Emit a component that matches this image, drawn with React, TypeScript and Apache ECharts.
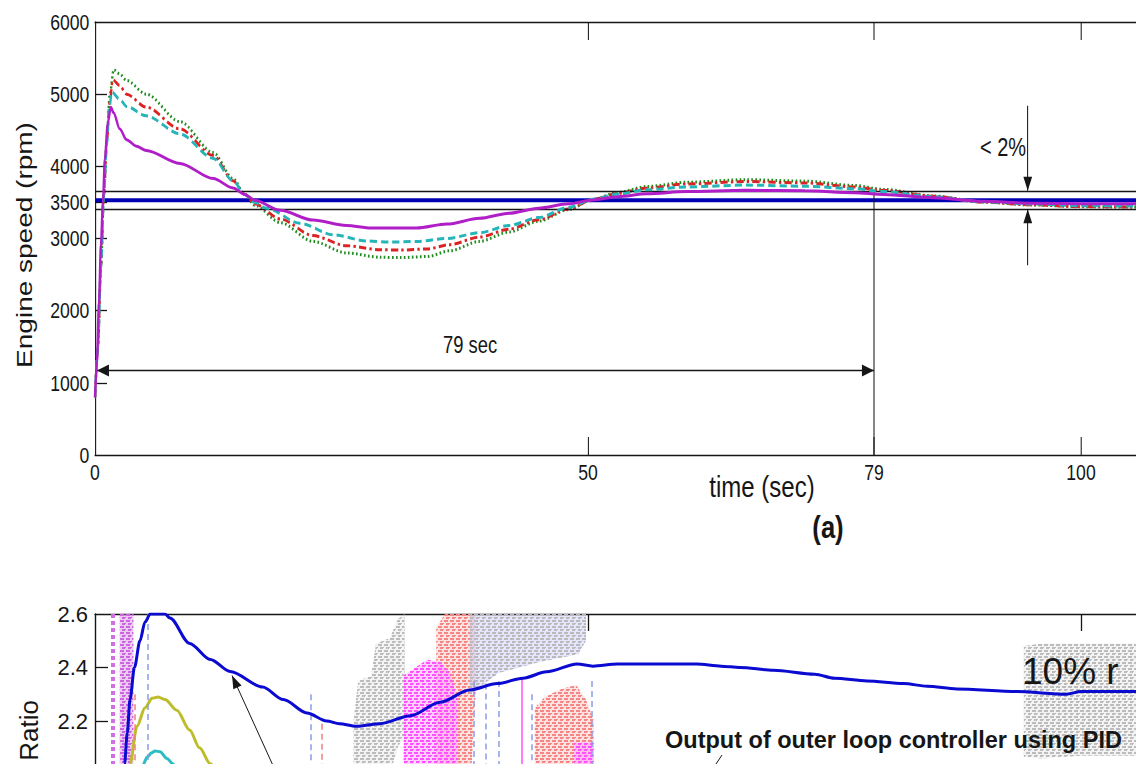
import React, { useEffect, useRef } from 'react';
import * as echarts from 'echarts';

const FONT = "'Liberation Sans', Arial, Helvetica, sans-serif";
const INK = '#161616';
const SQUEEZE = 0.8; // the upper figure is drawn wide and squeezed horizontally
const SEC_PX = 9.86; // pixels per second on both time axes
const PLOT_LEFT = 95;
const T_MAX = 110;

// Filled arrow head whose tip sits exactly on the end point of a mark line
const ARROW = 'path://M0,0L0.01,0L0,0.01Z M0,20L6,40L-6,40Z';

// ---------- (a) engine speed response ----------
const speedTickLabels = [0, 1000, 2000, 3000, 3500, 4000, 5000, 6000];
const speedTickMarks = [1000, 2000, 3000, 3500, 4000, 5000];
const timeTickLabels = [0, 50, 79, 100];
const timeTickMarks = [50, 79, 100];

const setpointRpm = 3530;
const toleranceHigh = 3660;
const toleranceLow = 3405;
const settlingSec = 79;
const spanArrowRpm = 1170;
const toleranceArrowSec = 94.6;
const toleranceArrowTop = 4840;
const toleranceArrowBottom = 2630;

const speedSetpoint: number[][] = [[0, setpointRpm], [T_MAX, setpointRpm]];

const speedGreen: number[][] = [
  [0, 800], [0.3, 1500], [0.6, 2600], [0.9, 3600], [1.2, 4400], [1.5, 5000], [1.9, 5340],
  [2.5, 5280], [3.2, 5190], [5.2, 5000], [8.6, 4620], [12, 4190], [14, 3830], [15.2, 3610],
  [16.2, 3460], [18.8, 3220], [22.1, 2960], [25.5, 2800], [28.9, 2740], [31, 2735], [33.7, 2750],
  [36, 2830], [39, 2960], [42, 3090], [45, 3240], [48, 3400], [50.5, 3540], [53, 3640], [56, 3720],
  [60, 3780], [66, 3815], [72, 3795], [77, 3735], [80, 3680], [85, 3590], [90, 3505], [95, 3465],
  [100, 3440], [105, 3435], [110, 3440],
];

const speedRed: number[][] = [
  [0, 800], [0.3, 1500], [0.6, 2600], [0.9, 3600], [1.2, 4350], [1.5, 4900], [1.8, 5200],
  [2.5, 5120], [3.2, 5000], [5.2, 4820], [8.6, 4520], [12, 4150], [14, 3800], [15.2, 3610],
  [16.2, 3480], [18.8, 3270], [22.1, 3040], [25.5, 2900], [28.9, 2845], [31, 2840], [33.7, 2855],
  [36, 2915], [39, 3020], [42, 3130], [45, 3260], [48, 3410], [50.5, 3540], [53, 3625], [56, 3700],
  [60, 3755], [66, 3790], [72, 3770], [77, 3715], [80, 3665], [85, 3585], [90, 3505], [95, 3468],
  [100, 3442], [105, 3438], [110, 3440],
];

const speedCyan: number[][] = [
  [0, 800], [0.3, 1500], [0.6, 2600], [0.9, 3600], [1.2, 4300], [1.45, 4800], [1.7, 5030],
  [2.5, 4930], [3.2, 4830], [5.2, 4700], [8.6, 4450], [12, 4110], [14, 3800], [15.2, 3610],
  [16.2, 3500], [17.4, 3420], [20.8, 3210], [24.2, 3050], [27.6, 2965], [30, 2950], [32.6, 2958],
  [35.7, 3000], [39, 3080], [42, 3180], [45, 3290], [48, 3430], [50.5, 3545], [53, 3615], [56, 3675],
  [60, 3715], [66, 3740], [72, 3725], [77, 3690], [80, 3650], [85, 3580], [90, 3510], [95, 3478],
  [100, 3455], [105, 3450], [110, 3450],
];

const speedMagenta: number[][] = [
  [0, 800], [0.2, 1300], [0.4, 2100], [0.6, 2900], [0.8, 3500], [1.0, 4100], [1.3, 4600], [1.6, 4820],
  [1.9, 4740], [2.5, 4520], [3.2, 4370], [4.2, 4280], [5.2, 4220], [8.6, 4040], [12, 3830], [14, 3700],
  [15.2, 3610], [16.2, 3530], [18.8, 3390], [22.1, 3255], [25.5, 3180], [28, 3145], [32.6, 3145],
  [35.7, 3200], [39, 3280], [42, 3350], [45, 3420], [48, 3480], [50.5, 3535], [53, 3580], [56, 3620],
  [60, 3650], [66, 3668], [72, 3660], [77, 3635], [80, 3610], [85, 3565], [90, 3515], [95, 3490],
  [100, 3482], [105, 3480], [110, 3480],
];

// ---------- lower panel: outer loop controller output ----------
const ratioTickLabels = [2.2, 2.4, 2.6];
const ratioTickMarks = [1.8, 2.0, 2.2, 2.4];
const ratioTopTicks = [50, 100];

const ratioPid: number[][] = [
  [2.5, 1.6], [3.0, 2.04], [3.27, 2.155], [3.55, 2.28], [4.0, 2.4], [4.56, 2.5], [5.07, 2.57],
  [5.6, 2.6], [7.1, 2.6], [7.6, 2.585], [9.6, 2.49], [11.7, 2.43], [13.7, 2.385], [17, 2.327],
  [19.1, 2.28], [21.5, 2.23], [23.5, 2.2], [24.8, 2.19], [26.5, 2.18], [28.9, 2.19], [32, 2.22],
  [35, 2.27], [38, 2.316], [40.8, 2.34], [43.4, 2.36], [45.8, 2.384], [48.9, 2.413], [50.5, 2.405],
  [53, 2.413], [61, 2.413], [63.5, 2.405], [65.4, 2.4], [68.8, 2.39], [73, 2.375], [75, 2.36],
  [78.3, 2.35], [82, 2.34], [84.4, 2.33], [87.4, 2.32], [93.5, 2.31], [98.5, 2.3], [100, 2.31], [110, 2.31],
];

const ratioYellow: number[][] = [
  [3.2, 1.7], [3.55, 2.04], [4.26, 2.18], [5.07, 2.25], [5.8, 2.285], [6.4, 2.29], [7.1, 2.28],
  [8.3, 2.24], [9.6, 2.166], [10.6, 2.1], [11.7, 2.04], [13, 1.95],
];

const ratioCyan: number[][] = [
  [4.3, 1.8], [4.9, 2.04], [5.3, 2.065], [5.7, 2.08], [6.1, 2.088], [6.6, 2.085], [7.3, 2.06],
  [7.9, 2.04], [8.8, 1.95],
];

// switching traces, drawn as hatched bands: [time, low, high]
const bandViolet: number[][] = [[2.5, 1.9, 2.6], [3.9, 1.9, 2.6]];
const bandGrayLeft: number[][] = [
  [26.2, 1.9, 2.2], [26.7, 1.9, 2.35], [28.0, 1.9, 2.37], [28.5, 1.9, 2.49], [29.9, 2.0, 2.51],
  [30.7, 2.1, 2.58], [31.4, 2.15, 2.6],
];
const bandSalmonMid: number[][] = [[34.6, 1.9, 2.55], [35.5, 1.9, 2.6], [38.0, 1.9, 2.6], [38.6, 2.3, 2.6]];
const bandMagenta: number[][] = [
  [31.3, 1.9, 2.37], [32.5, 1.9, 2.4], [33.7, 1.9, 2.43], [35.0, 1.9, 2.42], [36.0, 1.9, 2.38], [36.8, 1.9, 2.28],
];
const bandGrayBlue: number[][] = [[38.0, 2.3, 2.6], [41.0, 2.38, 2.6], [45.0, 2.42, 2.6], [49.0, 2.45, 2.6], [49.8, 2.5, 2.6]];
const bandSalmonLow: number[][] = [
  [44.6, 1.9, 2.25], [45.6, 1.9, 2.29], [47.3, 1.9, 2.32], [48.8, 1.9, 2.335], [49.8, 1.9, 2.28], [50.6, 1.9, 2.2],
];
const bandMagentaLow: number[][] = [[48.6, 1.9, 2.12], [50.6, 1.9, 2.12]];
const bandGrayRight: number[][] = [[94.2, 2.065, 2.48], [96, 2.06, 2.49], [100, 2.07, 2.49], [106, 2.07, 2.49]];

// thin switching traces: time, top value (they run down past the panel edge)
const traceTimes = [1.85, 4.05, 5.3, 21.9, 23.0, 38.4, 39.6, 40.9, 43.3, 44.3, 50.4];
const traceTops = [2.6, 2.3, 2.6, 2.3, 2.19, 2.35, 2.34, 2.35, 2.36, 2.3, 2.35];
const traceKinds = ['violet', 'salmon', 'blue', 'blue', 'salmon', 'blue', 'blue', 'blue', 'magenta', 'blue', 'blue'];
const traceBottom = 1.9;

const pointerFrom = [19.7, 1.9];
const pointerTo = [13.9, 2.37];

const traceStyles: Record<string, any> = {
  violet: { color: '#cf6fe2', width: 4, type: [4, 3] },
  salmon: { color: '#f08080', width: 1.5, type: [6, 4] },
  blue: { color: '#8c9ce6', width: 1.5, type: [6, 4] },
  magenta: { color: '#ff50ff', width: 1.5, type: 'solid' },
};

function hatch(ink: string, tint: string) {
  const c = document.createElement('canvas');
  c.width = 6;
  c.height = 6;
  const g = c.getContext('2d');
  if (g) {
    g.fillStyle = tint;
    g.fillRect(0, 0, 6, 6);
    g.fillStyle = ink;
    g.fillRect(0, 0, 4, 2);
    g.fillRect(2, 3, 3, 2);
    g.fillRect(5, 3, 1, 1);
  }
  return { image: c, repeat: 'repeat', imageWidth: 6, imageHeight: 6 };
}

function bandSeries(data: number[][], fill: any) {
  return {
    type: 'custom',
    silent: true,
    z: 1,
    data,
    renderItem: (params: any, api: any) => {
      if (params.dataIndex !== 0) return null;
      const upper = data.map((d) => api.coord([d[0], d[2]]));
      const lower = data.slice().reverse().map((d) => api.coord([d[0], d[1]]));
      return { type: 'polygon', shape: { points: upper.concat(lower) }, style: { fill, stroke: null } };
    },
  };
}

function curve(data: number[][], color: string, width: number, type: any, z: number) {
  return {
    type: 'line',
    data,
    showSymbol: false,
    symbol: 'none',
    smooth: 0.3,
    smoothMonotone: 'x',
    silent: true,
    z,
    lineStyle: { color, width, type },
  };
}

function text(str: string, x: number, y: number, size: number, extra: any = {}, rotation = 0) {
  return {
    type: 'text',
    x,
    y,
    z: 100,
    rotation,
    silent: true,
    style: {
      text: str,
      fontSize: size,
      fontFamily: FONT,
      fill: INK,
      align: 'center',
      verticalAlign: 'middle',
      ...extra,
    },
  };
}

const axisLine = { show: true, onZero: false, lineStyle: { color: INK, width: 1.4 } };
const plain = (v: number) => String(v);

function speedOption() {
  const sx = (x: number) => x / SQUEEZE;
  return {
    animation: false,
    textStyle: { fontFamily: FONT },
    grid: {
      left: sx(PLOT_LEFT), top: 22, width: sx(T_MAX * SEC_PX), height: 433,
      containLabel: false, outerBoundsMode: 'none',
    },
    xAxis: [
      {
        type: 'value', min: 0, max: T_MAX, position: 'bottom', axisLine,
        axisTick: { show: true, inside: true, length: 18, customValues: timeTickMarks, lineStyle: { color: INK, width: 1.3 } },
        axisLabel: { show: true, customValues: timeTickLabels, formatter: plain, fontSize: 22, fontFamily: FONT, color: INK, margin: 6 },
        splitLine: { show: false },
      },
      {
        type: 'value', min: 0, max: T_MAX, position: 'top', axisLine,
        axisTick: { show: true, inside: true, length: 18, customValues: timeTickMarks, lineStyle: { color: INK, width: 1.3 } },
        axisLabel: { show: false },
        splitLine: { show: false },
      },
    ],
    yAxis: {
      type: 'value', min: 0, max: 6000, axisLine,
      axisTick: { show: true, inside: true, length: 15, customValues: speedTickMarks, lineStyle: { color: INK, width: 1.3 } },
      axisLabel: { show: true, customValues: speedTickLabels, formatter: plain, fontSize: 22, fontFamily: FONT, color: INK, margin: 7 },
      splitLine: { show: false },
    },
    series: [
      {
        ...curve(speedSetpoint, '#0000b4', 4, 'solid', 2),
        smooth: false,
        markLine: {
          silent: true,
          symbol: ['none', 'none'],
          label: { show: false },
          emphasis: { disabled: true },
          lineStyle: { color: INK, width: 1.3, type: 'solid' },
          data: [
            [{ coord: [0, toleranceHigh] }, { coord: [T_MAX, toleranceHigh] }],
            [{ coord: [0, toleranceLow] }, { coord: [T_MAX, toleranceLow] }],
            [{ coord: [settlingSec, 0] }, { coord: [settlingSec, toleranceHigh] }],
            [
              { coord: [0.2, spanArrowRpm], symbol: ARROW, symbolSize: [12, 30] },
              { coord: [settlingSec, spanArrowRpm], symbol: ARROW, symbolSize: [12, 30] },
            ],
            [
              { coord: [toleranceArrowSec, toleranceArrowTop] },
              { coord: [toleranceArrowSec, toleranceHigh], symbol: ARROW, symbolSize: [11, 28] },
            ],
            [
              { coord: [toleranceArrowSec, toleranceArrowBottom] },
              { coord: [toleranceArrowSec, toleranceLow], symbol: ARROW, symbolSize: [11, 28] },
            ],
          ],
        },
      },
      curve(speedGreen, '#1e8c1e', 3, [2, 3], 3),
      curve(speedRed, '#dc2323', 3, [9, 4, 3, 4], 4),
      curve(speedCyan, '#25b4b8', 3, [9, 5], 5),
      curve(speedMagenta, '#b01ec8', 3, 'solid', 6),
    ],
    graphic: [
      text('Engine speed (rpm)', sx(24), 245, 28, {}, Math.PI / 2),
      text('time (sec)', sx(762), 487, 30),
      text('(a)', sx(828), 527, 32, { fontWeight: 'bold' }),
      text('79 sec', sx(470), 345, 23),
      text('< 2%', sx(1003), 148, 25),
    ],
  };
}

function ratioOption() {
  const gray = hatch('#bcbcbc', 'rgba(190,190,190,0.18)');
  const salmon = hatch('#f58686', 'rgba(244,124,124,0.22)');
  const magenta = hatch('#ff50ff', 'rgba(255,80,255,0.25)');
  const violet = hatch('#cc66e0', 'rgba(204,102,224,0.35)');
  const grayBlue = hatch('#bababa', 'rgba(150,150,255,0.25)');

  const traceLines = traceTimes.map((t, i) => [
    { coord: [t, traceTops[i]], lineStyle: traceStyles[traceKinds[i]] },
    { coord: [t, traceBottom] },
  ]);

  return {
    animation: false,
    textStyle: { fontFamily: FONT },
    grid: {
      left: PLOT_LEFT, top: 54, width: T_MAX * SEC_PX, height: 267.5,
      containLabel: false, outerBoundsMode: 'none',
    },
    xAxis: [
      {
        type: 'value', min: 0, max: T_MAX, position: 'bottom', axisLine,
        axisTick: { show: false }, axisLabel: { show: false }, splitLine: { show: false },
      },
      {
        type: 'value', min: 0, max: T_MAX, position: 'top', axisLine,
        axisTick: { show: true, inside: true, length: 17, customValues: ratioTopTicks, lineStyle: { color: INK, width: 1.3 } },
        axisLabel: { show: false }, splitLine: { show: false },
      },
    ],
    yAxis: {
      type: 'value', min: 1.6, max: 2.6, axisLine,
      axisTick: { show: true, inside: true, length: 13, customValues: ratioTickMarks, lineStyle: { color: INK, width: 1.3 } },
      axisLabel: {
        show: true, customValues: ratioTickLabels, fontSize: 22, fontFamily: FONT, color: INK, margin: 7,
        formatter: (v: number) => v.toFixed(1),
      },
      splitLine: { show: false },
    },
    series: [
      bandSeries(bandViolet, violet),
      bandSeries(bandGrayLeft, gray),
      bandSeries(bandSalmonMid, salmon),
      bandSeries(bandMagenta, magenta),
      bandSeries(bandGrayBlue, grayBlue),
      bandSeries(bandSalmonLow, salmon),
      bandSeries(bandMagentaLow, magenta),
      bandSeries(bandGrayRight, gray),
      curve(ratioYellow, '#bdbd2a', 3, 'solid', 4),
      curve(ratioCyan, '#2cbcc4', 3, 'solid', 4),
      {
        ...curve(ratioPid, '#0a0ad0', 3, 'solid', 5),
        markLine: {
          silent: true,
          symbol: ['none', 'none'],
          label: { show: false },
          emphasis: { disabled: true },
          lineStyle: { color: INK, width: 1, type: 'solid' },
          data: [
            ...traceLines,
            [{ coord: pointerFrom }, { coord: pointerTo, symbol: ARROW, symbolSize: [9, 26] }],
          ],
        },
      },
    ],
    graphic: [
      text('Ratio', 29, 140, 26, { align: 'right' }, Math.PI / 2),
      text('10% r', 1022, 111, 37, { align: 'left' }),
      text('Output of outer loop controller using PID', 665, 180, 23.5, { align: 'left', fontWeight: 'bold' }),
      { type: 'line', z: 100, silent: true, shape: { x1: 722, y1: 195, x2: 716, y2: 204 }, style: { stroke: INK, lineWidth: 1 } },
    ],
  };
}

export default function App() {
  const topRef = useRef<HTMLDivElement>(null);
  const bottomRef = useRef<HTMLDivElement>(null);

  useEffect(() => {
    document.body.style.margin = '0';
    if (!topRef.current || !bottomRef.current) return;
    const top = echarts.init(topRef.current, undefined, { renderer: 'svg' });
    const bottom = echarts.init(bottomRef.current, undefined, { renderer: 'svg' });
    top.setOption(speedOption() as any);
    bottom.setOption(ratioOption() as any);
    return () => {
      top.dispose();
      bottom.dispose();
    };
  }, []);

  return (
    <div style={{ position: 'fixed', left: 0, top: 0, width: 1136, height: 764, overflow: 'hidden', background: '#fff' }}>
      <div
        ref={topRef}
        style={{
          position: 'absolute', left: 0, top: 0, width: 1136 / SQUEEZE, height: 560,
          transform: `scaleX(${SQUEEZE})`, transformOrigin: '0 0',
        }}
      />
      <div ref={bottomRef} style={{ position: 'absolute', left: 0, top: 560, width: 1136, height: 204 }} />
    </div>
  );
}
